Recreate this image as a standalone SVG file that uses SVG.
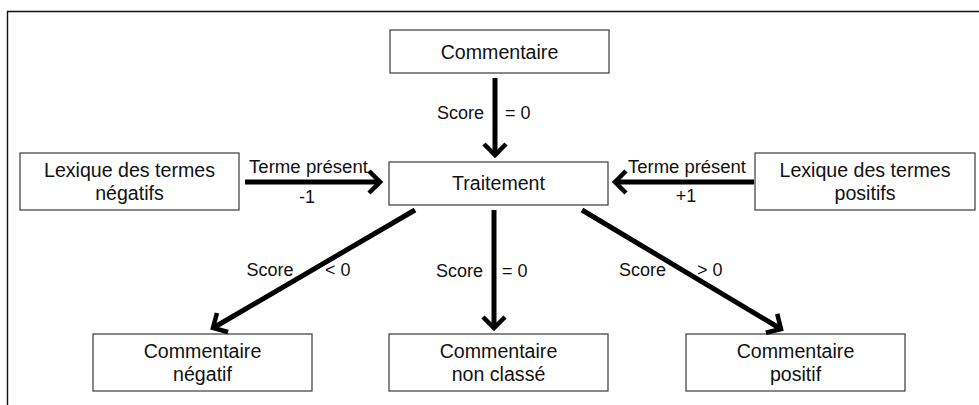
<svg xmlns="http://www.w3.org/2000/svg" width="979" height="405" viewBox="0 0 979 405">
<style>
.box{fill:#fff;stroke:#3a3a3a;stroke-width:1.2}
.t{font-family:"Liberation Sans",Arial,sans-serif;font-size:19.6px;fill:#111;text-anchor:middle}
.lbl{font-family:"Liberation Sans",Arial,sans-serif;font-size:18px;fill:#111}
.arr{stroke:#000;stroke-width:5;fill:none;marker-end:url(#chev)}
</style>
<defs>
<marker id="chev" markerUnits="userSpaceOnUse" viewBox="-16 -16 32 32" markerWidth="32" markerHeight="32" refX="0" refY="0" orient="auto">
<path d="M-11,-11 L0,0 L-11,11" fill="none" stroke="#000" stroke-width="4.5"/>
</marker>
</defs>
<rect width="979" height="405" fill="#fff"/>
<path d="M7.5,405 V11.5 H979" fill="none" stroke="#111" stroke-width="1.4"/>
<g id="n-commentaire"><rect class="box" x="390" y="30" width="219" height="43"/><text class="t" x="499.5" y="59">Commentaire</text></g>
<g id="n-traitement"><rect class="box" x="389" y="162" width="219" height="43"/><text class="t" x="498.5" y="190">Traitement</text></g>
<g id="n-lex-neg"><rect class="box" x="20" y="153" width="219" height="57"/><text class="t" x="129.5" y="177">Lexique des termes</text><text class="t" x="129.5" y="200">négatifs</text></g>
<g id="n-lex-pos"><rect class="box" x="755" y="153" width="220" height="57"/><text class="t" x="865" y="177">Lexique des termes</text><text class="t" x="865" y="200">positifs</text></g>
<g id="n-neg"><rect class="box" x="93" y="334" width="219" height="57"/><text class="t" x="202.5" y="358">Commentaire</text><text class="t" x="202.5" y="381">négatif</text></g>
<g id="n-nc"><rect class="box" x="389" y="334" width="219" height="57"/><text class="t" x="498.5" y="358">Commentaire</text><text class="t" x="498.5" y="381">non classé</text></g>
<g id="n-pos"><rect class="box" x="686" y="334" width="219" height="57"/><text class="t" x="795.5" y="358">Commentaire</text><text class="t" x="795.5" y="381">positif</text></g>
<g id="connectors">
<line class="arr" x1="495" y1="78" x2="495" y2="155"/>
<line class="arr" x1="245" y1="182" x2="380" y2="182"/>
<line class="arr" x1="754" y1="182" x2="615" y2="182"/>
<line class="arr" x1="415" y1="210" x2="213" y2="328"/>
<line class="arr" x1="494" y1="210" x2="494" y2="328"/>
<line class="arr" x1="582" y1="210" x2="781" y2="329"/>
<text class="lbl" x="437" y="119">Score</text><text class="lbl" x="505" y="119">= 0</text>
<text class="lbl" x="249" y="172.5" font-size="16" textLength="119" lengthAdjust="spacingAndGlyphs">Terme présent</text>
<text class="lbl" x="307" y="203" text-anchor="middle">-1</text>
<text class="lbl" x="628" y="172.5" font-size="16" textLength="118" lengthAdjust="spacingAndGlyphs">Terme présent</text>
<text class="lbl" x="686" y="202" text-anchor="middle">+1</text>
<text class="lbl" x="246.5" y="276">Score</text><text class="lbl" x="325" y="276">&lt; 0</text>
<text class="lbl" x="436" y="277">Score</text><text class="lbl" x="502" y="277">= 0</text>
<text class="lbl" x="619" y="276">Score</text><text class="lbl" x="697" y="276">&gt; 0</text>
</g>
</svg>
